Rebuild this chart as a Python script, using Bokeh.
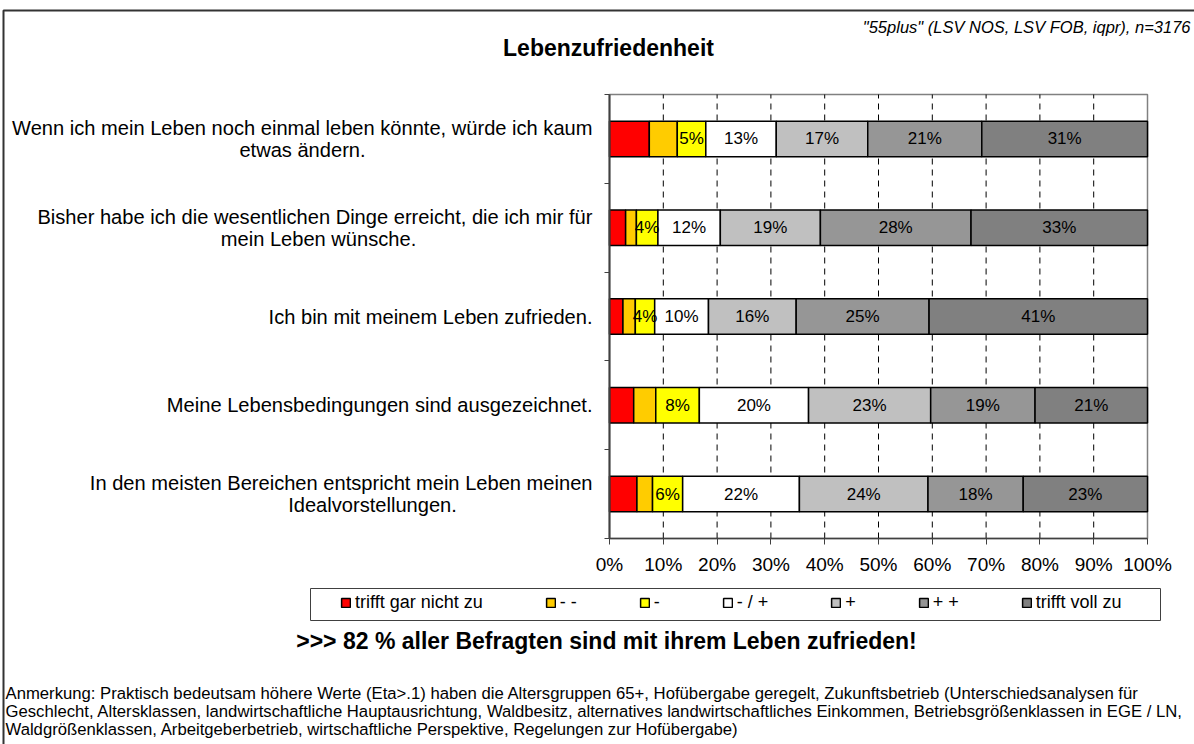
from bokeh.plotting import figure
from bokeh.models import (Range1d, FixedTicker, PrintfTickFormatter, LabelSet, Label,
                          ColumnDataSource, Legend, LegendItem, BoxAnnotation)
from bokeh.core.properties import value
from bokeh.embed import file_html
from bokeh.resources import INLINE

# ---------------- data ----------------
title_text = "Lebenzufriedenheit"
source_text = '"55plus" (LSV NOS, LSV FOB, iqpr), n=3176'
message_text = ">>> 82 % aller Befragten sind mit ihrem Leben zufrieden!"
note_lines = [
    "Anmerkung: Praktisch bedeutsam höhere Werte (Eta>.1) haben die Altersgruppen 65+, Hofübergabe geregelt, Zukunftsbetrieb (Unterschiedsanalysen für",
    "Geschlecht, Altersklassen, landwirtschaftliche Hauptausrichtung, Waldbesitz, alternatives landwirtschaftliches Einkommen, Betriebsgrößenklassen in EGE / LN,",
    "Waldgrößenklassen, Arbeitgeberbetrieb, wirtschaftliche Perspektive, Regelungen zur Hofübergabe)",
]

# statements, top to bottom (line 1 / line 2)
q_line1 = [
    "Wenn ich mein Leben noch einmal leben könnte, würde ich kaum",
    "Bisher habe ich die wesentlichen Dinge erreicht, die ich mir für",
    "Ich bin mit meinem Leben zufrieden.",
    "Meine Lebensbedingungen sind ausgezeichnet.",
    "In den meisten Bereichen entspricht mein Leben meinen",
]
q_line2 = [
    "etwas ändern.",
    "mein Leben wünsche.",
    "",
    "",
    "Idealvorstellungen.",
]

series_names = ["trifft gar nicht zu", "- -", "-", "- / +", "+", "+ +", "trifft voll zu"]
series_colors = ["#FF0000", "#FFCC00", "#FFFF00", "#FFFFFF", "#C0C0C0", "#969696", "#808080"]

# percentages per answer category, statements top to bottom
s_gar_nicht = [7.4, 3.0, 2.5, 4.5, 5.1]
s_minus_minus = [5.2, 2.0, 2.3, 4.1, 2.9]
s_minus = [5.3, 4.0, 3.6, 8.1, 5.6]
s_neutral = [13.1, 11.6, 10.0, 20.3, 21.7]
s_plus = [17.0, 18.6, 16.3, 22.7, 23.9]
s_plus_plus = [21.2, 28.0, 24.7, 19.4, 17.7]
s_voll = [30.8, 32.8, 40.6, 20.9, 23.1]
series_values = [s_gar_nicht, s_minus_minus, s_minus, s_neutral, s_plus, s_plus_plus, s_voll]
labelled_series = [2, 3, 4, 5, 6]   # series whose segments carry a % label

x_ticks = [0, 10, 20, 30, 40, 50, 60, 70, 80, 90, 100]

# ---------------- layout (page pixels) ----------------
W, H = 1194, 744
FRAME_L, FRAME_R, FRAME_T, FRAME_B = 609, 1147, 94, 538
FONT = "Liberation Sans"


def fx(px):
    return px


def fy(py):
    return H - py


n_rows = len(q_line1)
row_y = [n_rows - 0.5 - i for i in range(n_rows)]

sx = (FRAME_R - FRAME_L) / 100.0
sy = (FRAME_B - FRAME_T) / float(n_rows)
x_range = Range1d(-FRAME_L / sx, (W - FRAME_L) / sx)
y_range = Range1d(-(H - FRAME_B) / sy, n_rows + FRAME_T / sy)

p = figure(width=W, height=H, x_range=x_range, y_range=y_range,
           output_backend="svg", toolbar_location=None,
           min_border=0, min_border_left=0, min_border_right=0,
           min_border_top=0, min_border_bottom=0)
p.background_fill_color = "white"
p.outline_line_color = None
p.xgrid.visible = False
p.ygrid.visible = False

# axes drawn at fixed data locations
p.xaxis.fixed_location = 0
p.xaxis.bounds = (0, 100)
p.xaxis.ticker = FixedTicker(ticks=x_ticks)
p.xaxis.formatter = PrintfTickFormatter(format="%d%%")
p.xaxis.major_tick_in = 0
p.xaxis.major_tick_out = 6
p.xaxis.minor_tick_line_color = None
p.xaxis.axis_line_color = "#404040"
p.xaxis.axis_line_width = 1.5
p.xaxis.major_tick_line_color = "#404040"
p.xaxis.major_label_text_font = FONT
p.xaxis.major_label_text_font_size = "19px"
p.xaxis.major_label_text_color = "black"
p.xaxis.major_label_standoff = 9

p.yaxis.fixed_location = 0
p.yaxis.bounds = (0, n_rows)
p.yaxis.ticker = FixedTicker(ticks=list(range(n_rows + 1)))
p.yaxis.major_label_text_color = None
p.yaxis.major_label_text_font_size = "1px"
p.yaxis.major_tick_in = 0
p.yaxis.major_tick_out = 5
p.yaxis.minor_tick_line_color = None
p.yaxis.axis_line_color = "#404040"
p.yaxis.axis_line_width = 2
p.yaxis.major_tick_line_color = "#404040"

# dashed vertical gridlines inside the plot area
grid_x = x_ticks[1:-1]
p.segment(x0=grid_x, y0=[0] * len(grid_x), x1=grid_x, y1=[n_rows] * len(grid_x),
          line_color="black", line_width=1, line_dash="6 5")

# plot area border (grey, top & right)
p.add_layout(BoxAnnotation(left=0, right=100, bottom=0, top=n_rows, fill_color=None, fill_alpha=0,
                           line_color="#808080", line_alpha=1, line_width=1.5, level="underlay"))

# stacked bars
renderers = []
cum = [0.0] * n_rows
lab_x, lab_y, lab_t = [], [], []
for i, vals in enumerate(series_values):
    left = cum[:]
    right = [a + b for a, b in zip(cum, vals)]
    src = ColumnDataSource(dict(y=row_y, left=left, right=right))
    r = p.hbar(y="y", left="left", right="right", height=0.4, source=src,
               fill_color=series_colors[i], line_color="black", line_width=1.5)
    renderers.append(r)
    if i in labelled_series:
        for j in range(n_rows):
            lab_x.append((left[j] + right[j]) / 2)
            lab_y.append(row_y[j])
            lab_t.append(f"{round(vals[j])}%")
    cum = right

p.add_layout(LabelSet(x="x", y="y", text="t", source=ColumnDataSource(dict(x=lab_x, y=lab_y, t=lab_t)),
                      text_align="center", text_baseline="middle", text_font=value(FONT),
                      text_font_size="17px", text_color="black"))

# statement labels
single_src = dict(x=[], y=[], t=[])
first_src = dict(x=[], y=[], t=[])
second_src = dict(x=[], y=[], t=[])
second_centers = [302, 318, None, None, 372]
for j in range(n_rows):
    if q_line2[j]:
        first_src["x"].append(fx(592)); first_src["y"].append(row_y[j]); first_src["t"].append(q_line1[j])
        second_src["x"].append(fx(second_centers[j])); second_src["y"].append(row_y[j]); second_src["t"].append(q_line2[j])
    else:
        single_src["x"].append(fx(592)); single_src["y"].append(row_y[j]); single_src["t"].append(q_line1[j])

for d, align, yoff in [(single_src, "right", 0), (first_src, "right", 11), (second_src, "center", -11)]:
    p.add_layout(LabelSet(x="x", y="y", text="t", source=ColumnDataSource(d), x_units="screen",
                          y_offset=yoff, text_align=align, text_baseline="middle",
                          text_font=value(FONT), text_font_size="20.1px", text_color="black"))

# legend
items = [LegendItem(label=series_names[i], renderers=[renderers[i]]) for i in range(len(series_names))]
legend = Legend(items=items, orientation="horizontal", location=(fx(340), fy(613)),
                glyph_width=11, glyph_height=11, label_standoff=4, spacing=62, padding=0, margin=0,
                label_width=1, border_line_color=None, background_fill_alpha=0,
                label_text_font=FONT, label_text_font_size="18px", label_text_color="black",
                label_height=18)
p.add_layout(legend)
p.add_layout(BoxAnnotation(left=fx(310), right=fx(1160), top=fy(588), bottom=fy(620),
                           left_units="screen", right_units="screen", top_units="screen", bottom_units="screen",
                           fill_color=None, fill_alpha=0, line_color="#404040", line_alpha=1, line_width=1))

# outer chart border (top & left visible)
p.add_layout(BoxAnnotation(left=fx(3), right=fx(W + 40), top=fy(10), bottom=fy(H + 40),
                           left_units="screen", right_units="screen", top_units="screen", bottom_units="screen",
                           fill_color=None, fill_alpha=0, line_color="#333333", line_alpha=1, line_width=2))

# texts
p.add_layout(Label(x=fx(608), y=fy(47), x_units="screen", y_units="screen", text=title_text,
                   text_align="center", text_baseline="middle", text_font=FONT, text_color="black",
                   text_font_style="bold", text_font_size="23px"))
p.add_layout(Label(x=fx(1190), y=fy(26), x_units="screen", y_units="screen", text=source_text,
                   text_align="right", text_baseline="middle", text_font=FONT, text_color="black",
                   text_font_style="italic", text_font_size="16.5px"))
p.add_layout(Label(x=fx(606), y=fy(640), x_units="screen", y_units="screen", text=message_text,
                   text_align="center", text_baseline="middle", text_font=FONT, text_color="black",
                   text_font_style="bold", text_font_size="23px"))
for k, line in enumerate(note_lines):
    p.add_layout(Label(x=fx(5), y=fy(693 + 18 * k), x_units="screen", y_units="screen", text=line,
                       text_align="left", text_baseline="middle", text_font=FONT, text_color="black",
                       text_font_size="16.7px"))

open("out.html", "w").write(file_html(p, INLINE))
